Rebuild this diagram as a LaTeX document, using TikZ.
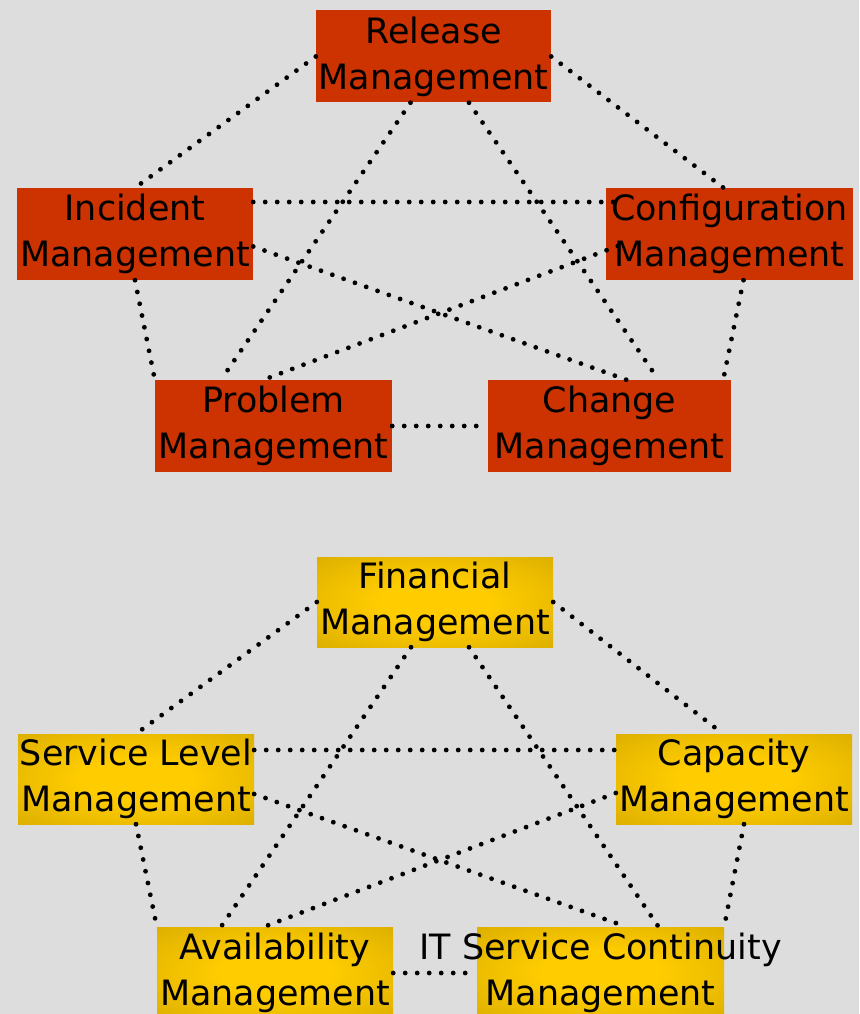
\documentclass[tikz,border=0pt]{standalone}
\usepackage{fontspec}
\setmainfont{DejaVu Sans}
\usetikzlibrary{calc}
\definecolor{BrickClr}{HTML}{CC3300}
\definecolor{GoldClr}{HTML}{FFCC00}
\definecolor{GoldDarkClr}{HTML}{D9AD00}
\definecolor{PaperClr}{HTML}{DDDDDD}
\pgfdeclareradialshading{goldglow}{\pgfpointorigin}{color(0bp)=(GoldClr); color(12bp)=(GoldClr); color(38bp)=(GoldDarkClr); color(50bp)=(GoldDarkClr)}

\begin{document}
\begin{tikzpicture}[x=1pt,y=-1pt]
\tikzset{
  itilbox/.style={inner sep=0pt, minimum height=92, align=center,
    font=\fontsize{34.9pt}{46pt}\selectfont,
    execute at begin node=\rule{0pt}{32.5pt}},
  redbox/.style={itilbox, fill=BrickClr},
  goldbox/.style={itilbox, shade, shading=goldglow},
  dots/.style={line width=4.8pt, line cap=round, dash pattern=on 0pt off 12pt}
}
\path[use as bounding box, fill=PaperClr] (0,0) rectangle (859,1014);

\node[redbox, minimum width=235] (rel) at (433.5,56.5) {Release\\Management};
\node[redbox, minimum width=236] (inc) at (135,234) {Incident\\Management};
\node[redbox, minimum width=247] (cfg) at (729.5,234) {Configuration\\Management};
\node[redbox, minimum width=237] (prb) at (273.5,426) {Problem\\Management};
\node[redbox, minimum width=243] (chg) at (609.5,426) {Change\\Management};

\node[goldbox, minimum width=236, minimum height=90] (fin) at (435,602) {Financial\\Management};
\node[goldbox, minimum width=236, minimum height=90] (svl) at (136,779) {Service Level\\Management};
\node[goldbox, minimum width=236, minimum height=90] (cap) at (734,779) {Capacity\\Management};
\node[goldbox, minimum width=236] (avl) at (275,973) {Availability\\Management};
\node[goldbox, minimum width=247] (itc) at (600.5,973) {\makebox[0pt]{IT Service Continuity}\\Management};

\draw[dots] (rel.west) -- (inc.north);
\draw[dots] (rel.east) -- ($(cfg.north)+(-6,0)$);
\draw[dots] ($(rel.south)+(-23,0)$) -- ($(prb.north)+(-52.5,0)$);
\draw[dots] ($(rel.south)+(35.5,0)$) -- ($(chg.north)+(49,0)$);
\draw[dots] ($(inc.east)+(0,-32)$) -- ($(cfg.west)+(11,-32)$);
\draw[dots] ($(inc.east)+(0,12.5)$) -- ($(chg.north)+(17,0)$);
\draw[dots] ($(cfg.west)+(12,12)$) -- ($(prb.north)+(-10,0)$);
\draw[dots] (inc.south) -- (prb.north west);
\draw[dots] ($(cfg.south)+(14,0)$) -- ($(chg.north east)+(-8,0)$);
\draw[dots] (prb.east) -- (chg.west);

\draw[dots] (fin.west) -- (svl.north);
\draw[dots] (fin.east) -- ($(cap.north)+(-11,0)$);
\draw[dots] ($(fin.south)+(-24,0)$) -- ($(avl.north)+(-54,0)$);
\draw[dots] ($(fin.south)+(34,0)$) -- ($(itc.north)+(58,0)$);
\draw[dots] ($(svl.east)+(0,-29)$) -- ($(cap.west)+(0,-29)$);
\draw[dots] ($(svl.east)+(0,15)$) -- ($(itc.north)+(26,0)$);
\draw[dots] ($(cap.west)+(0,14)$) -- ($(avl.north)+(-11,0)$);
\draw[dots] (svl.south) -- (avl.north west);
\draw[dots] ($(cap.south)+(10,0)$) -- (itc.north east);
\draw[dots] (avl.east) -- (itc.west);
\end{tikzpicture}
\end{document}
